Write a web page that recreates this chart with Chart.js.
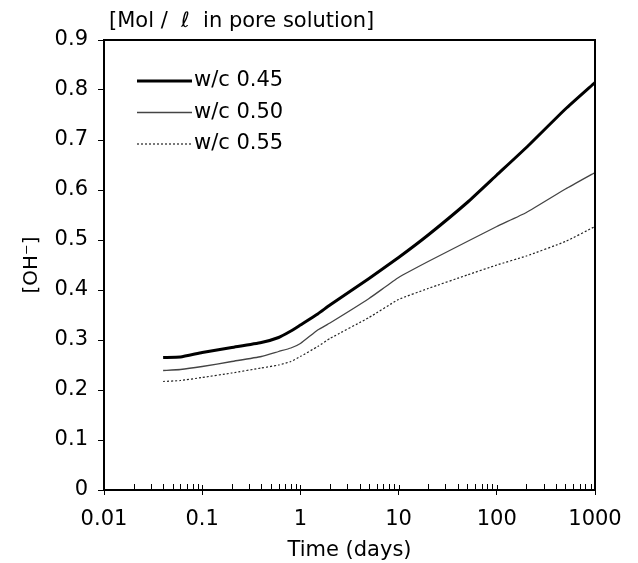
<!DOCTYPE html>
<html>
<head>
<meta charset="utf-8">
<script src="https://cdn.jsdelivr.net/npm/chart.js@4.4.1/dist/chart.umd.min.js"></script>
<style>
html,body{margin:0;padding:0;background:#fff;}
canvas{display:block;}
</style>
</head>
<body>
<canvas id="c" width="638" height="563"></canvas>
<script>
// ---- data ----
const timeDays = [0.04, 0.06, 0.1, 0.2, 0.4, 0.6, 0.8, 1, 1.5, 2, 5, 10, 20, 50, 100, 200, 500, 1000];
const wc045 = [0.265, 0.266, 0.275, 0.285, 0.295, 0.305, 0.318, 0.33, 0.352, 0.37, 0.423, 0.465, 0.51, 0.575, 0.63, 0.685, 0.762, 0.815];
const wc050 = [0.239, 0.241, 0.247, 0.257, 0.267, 0.277, 0.284, 0.293, 0.32, 0.334, 0.383, 0.425, 0.457, 0.497, 0.527, 0.555, 0.602, 0.635];
const wc055 = [0.217, 0.219, 0.225, 0.234, 0.244, 0.25, 0.257, 0.267, 0.287, 0.303, 0.345, 0.381, 0.403, 0.43, 0.45, 0.468, 0.497, 0.527];
const seriesNames = ['w/c 0.45', 'w/c 0.50', 'w/c 0.55'];
const xDecades = [0.01, 0.1, 1, 10, 100, 1000];
const xTickLabels = ['0.01', '0.1', '1', '10', '100', '1000'];
const yTickLabels = ['0', '0.1', '0.2', '0.3', '0.4', '0.5', '0.6', '0.7', '0.8', '0.9'];
const yTitle = '[OH\u207B]';
const xTitle = 'Time (days)';
const topTitle = '[Mol /  \u2113  in pore solution]';

const FONT = 'DejaVu Sans';
const pts = arr => timeDays.map((t, i) => ({x: t, y: arr[i]}));

const isDecade = v => xDecades.some(d => Math.abs(v - d) / d < 1e-6);

const decor = {
  id: 'decor',
  afterDraw(chart) {
    const {ctx, chartArea: a, scales} = chart;
    const xs = scales.x;
    ctx.save();
    // inner minor/major ticks on x axis
    ctx.strokeStyle = '#000';
    ctx.lineWidth = 1;
    xs.ticks.forEach(t => {
      const px = Math.round(xs.getPixelForValue(t.value)) + 0.5;
      const len = isDecade(t.value) ? 5 : 6;
      ctx.beginPath();
      ctx.moveTo(px, a.bottom);
      ctx.lineTo(px, a.bottom - len);
      ctx.stroke();
    });
    // box
    ctx.lineWidth = 2;
    ctx.strokeRect(a.left, a.top, a.right - a.left, a.bottom - a.top);
    // top title
    ctx.fillStyle = '#000';
    ctx.font = '21px "' + FONT + '"';
    ctx.textBaseline = 'middle';
    ctx.textAlign = 'left';
    ctx.fillText(topTitle, a.left + 5, 22);
    // legend
    chart.data.datasets.forEach((ds, i) => {
      const y = a.top + 41 + i * 31.5;
      ctx.beginPath();
      ctx.strokeStyle = ds.borderColor;
      ctx.lineWidth = ds.borderWidth;
      ctx.setLineDash(ds.borderDash || []);
      ctx.moveTo(a.left + 33, y);
      ctx.lineTo(a.left + 88, y);
      ctx.stroke();
      ctx.setLineDash([]);
      ctx.font = '21px "' + FONT + '"';
      ctx.fillText(ds.label, a.left + 90, y);
    });
    ctx.restore();
  }
};

new Chart(document.getElementById('c'), {
  type: 'line',
  data: {
    datasets: [
      {label: seriesNames[0], data: pts(wc045), borderColor: '#000', borderWidth: 3, pointRadius: 0, tension: 0.15, fill: false},
      {label: seriesNames[1], data: pts(wc050), borderColor: '#444', borderWidth: 1.3, pointRadius: 0, tension: 0.15, fill: false},
      {label: seriesNames[2], data: pts(wc055), borderColor: '#222', borderWidth: 1.2, borderDash: [2, 2], pointRadius: 0, tension: 0.15, fill: false}
    ]
  },
  options: {
    responsive: false,
    animation: false,
    devicePixelRatio: 1,
    layout: {padding: {left: 0, right: 43, top: 40, bottom: 0}},
    plugins: {legend: {display: false}, tooltip: {enabled: false}, title: {display: false}},
    scales: {
      x: {
        type: 'logarithmic',
        min: 0.01,
        max: 1000,
        afterFit: s => { s.height = 73; },
        afterBuildTicks: s => {
          const t = [];
          for (let e = -2; e <= 3; e++) {
            for (let m = 1; m <= 9; m++) {
              const v = +(m * Math.pow(10, e)).toPrecision(3);
              if (v <= 1000) t.push({value: v});
            }
          }
          s.ticks = t;
        },
        ticks: {
          autoSkip: false,
          maxRotation: 0,
          padding: 12,
          color: '#000',
          font: {family: FONT, size: 21},
          callback: v => { const i = xDecades.findIndex(d => Math.abs(v - d) / d < 1e-6); return i >= 0 ? xTickLabels[i] : ''; }
        },
        grid: {
          drawOnChartArea: false,
          drawTicks: true,
          tickLength: 5,
          color: c => (c.tick && isDecade(c.tick.value)) ? '#000' : 'rgba(0,0,0,0)'
        },
        border: {display: true, color: '#000', width: 2},
        title: {display: true, text: xTitle, color: '#000', font: {family: FONT, size: 21, lineHeight: 1.2}, padding: {top: 0, bottom: 0}}
      },
      y: {
        min: 0,
        max: 0.9,
        afterFit: s => { s.width = 104; },
        ticks: {
          stepSize: 0.1,
          padding: 10,
          color: '#000',
          font: {family: FONT, size: 21},
          callback: (v) => yTickLabels[Math.round(v * 10)]
        },
        grid: {drawOnChartArea: false, drawTicks: true, tickLength: 6, color: '#000'},
        border: {display: true, color: '#000', width: 2},
        title: {display: true, text: yTitle, color: '#000', font: {family: FONT, size: 20, lineHeight: 1.2}, padding: {top: 20, bottom: 0}}
      }
    }
  },
  plugins: [decor]
});
</script>
</body>
</html>
